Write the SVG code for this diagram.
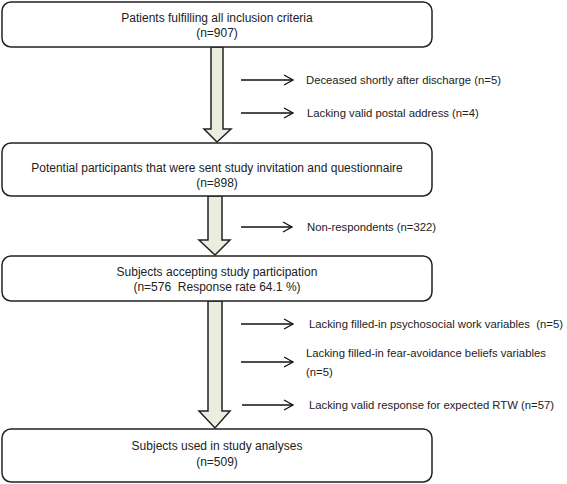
<svg xmlns="http://www.w3.org/2000/svg" width="567" height="484" viewBox="0 0 567 484">
<defs>
<style>
.box{fill:#fff;stroke:#222;stroke-width:1.5}
.fat{fill:#ededdf;stroke:#222;stroke-width:1.5;stroke-linejoin:miter}
.t{font-family:"Liberation Sans",Arial,sans-serif;font-size:11.3px;fill:#222;white-space:pre}
.b{font-size:12px}
.c{text-anchor:middle}
.ln{stroke:#111;stroke-width:1.3;fill:none}
</style>
<marker id="ah" markerWidth="12" markerHeight="12" refX="10" refY="6" orient="auto" markerUnits="userSpaceOnUse">
<path d="M1,1 L10,6 L1,11" fill="none" stroke="#111" stroke-width="1.3"/>
</marker>
</defs>
<g id="connectors">
<path class="fat" d="M211,47 L223,47 L223,129 L231,129 L217,142 L204,129 L211,129 Z"/>
<path class="fat" d="M208,196 L222,196 L222,240 L230,240 L215,255 L199,240 L208,240 Z"/>
<path class="fat" d="M208,301 L222,301 L222,411 L230,411 L215,428 L199,411 L208,411 Z"/>
<line class="ln" x1="241" y1="80" x2="293" y2="80" marker-end="url(#ah)"/>
<line class="ln" x1="241" y1="113" x2="293" y2="113" marker-end="url(#ah)"/>
<line class="ln" x1="241" y1="227" x2="292" y2="227" marker-end="url(#ah)"/>
<line class="ln" x1="241" y1="324" x2="293" y2="324" marker-end="url(#ah)"/>
<line class="ln" x1="241" y1="362" x2="293" y2="362" marker-end="url(#ah)"/>
<line class="ln" x1="242" y1="405" x2="293" y2="405" marker-end="url(#ah)"/>
</g>
<g id="n1">
<rect class="box" x="2" y="2" width="430" height="45" rx="9"/>
<text class="t b c" x="217" y="22">Patients fulfilling all inclusion criteria</text>
<text class="t b c" x="217" y="37">(n=907)</text>
</g>
<g id="n2">
<rect class="box" x="2" y="143" width="430" height="53" rx="9"/>
<text class="t b c" x="217" y="172">Potential participants that were sent study invitation and questionnaire</text>
<text class="t b c" x="217" y="187">(n=898)</text>
</g>
<g id="n3">
<rect class="box" x="2" y="256" width="430" height="45" rx="9"/>
<text class="t b c" x="217" y="276">Subjects accepting study participation</text>
<text class="t b c" x="217" y="291">(n=576  Response rate 64.1 %)</text>
</g>
<g id="n4">
<rect class="box" x="2" y="429" width="430" height="53" rx="9"/>
<text class="t b c" x="217" y="450">Subjects used in study analyses</text>
<text class="t b c" x="217" y="466">(n=509)</text>
</g>
<g id="e1"><text class="t" x="306" y="84">Deceased shortly after discharge (n=5)</text></g>
<g id="e2"><text class="t" x="307" y="117">Lacking valid postal address (n=4)</text></g>
<g id="e3"><text class="t" x="307" y="231">Non-respondents (n=322)</text></g>
<g id="e4"><text class="t" x="309" y="328">Lacking filled-in psychosocial work variables  (n=5)</text></g>
<g id="e5"><text class="t" x="306" y="357">Lacking filled-in fear-avoidance beliefs variables</text><text class="t" x="306" y="376">(n=5)</text></g>
<g id="e6"><text class="t" x="309" y="409">Lacking valid response for expected RTW (n=57)</text></g>
</svg>
